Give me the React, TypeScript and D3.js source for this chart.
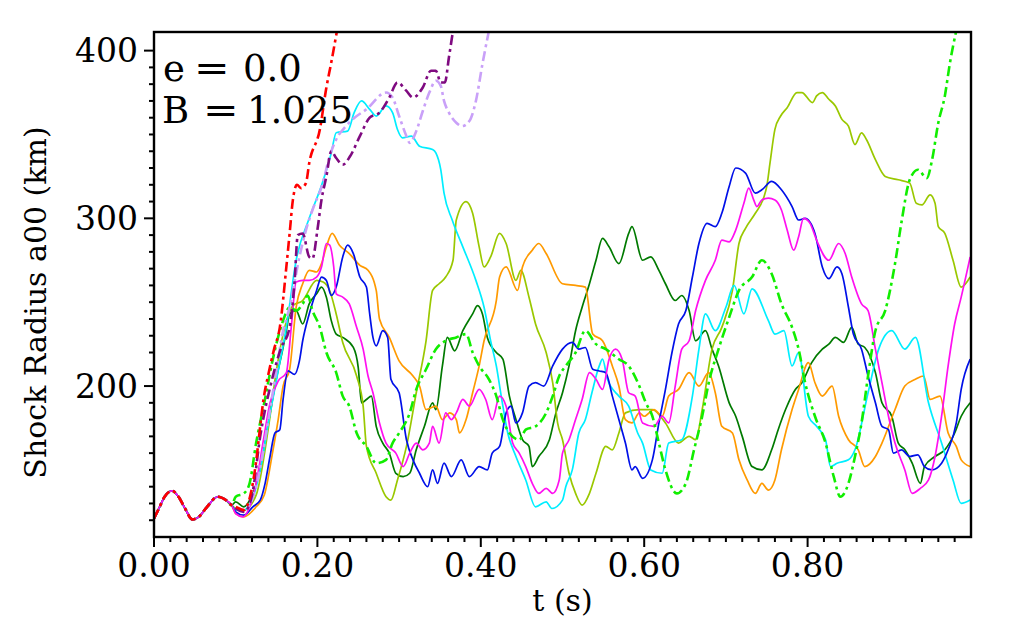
import React from 'react';
import * as d3 from 'd3';

type Pt = [number, number];

// shared start of every run (t in s, shock radius in km)
const startSegment: Pt[] = [[0, 121], [0.006, 127], [0.013, 134], [0.022, 137.5], [0.03, 134], [0.038, 127], [0.047, 120.5], [0.055, 122], [0.065, 128], [0.078, 134], [0.088, 132], [0.095, 129]];

const redRun: Pt[] = [[0.1, 128], [0.11, 126], [0.118, 135], [0.125, 155], [0.13, 176], [0.134, 192], [0.14, 207], [0.147, 222], [0.154, 235], [0.162, 271], [0.166, 291], [0.17, 311], [0.175, 320], [0.18, 318], [0.186, 321], [0.19, 333], [0.203, 353], [0.211, 378], [0.217, 393], [0.224, 412]];

const purpleRun: Pt[] = [[0.1, 127], [0.11, 125], [0.12, 135], [0.13, 170], [0.145, 205], [0.155, 222], [0.166, 235], [0.172, 262], [0.176, 290], [0.182, 291], [0.19, 277], [0.194, 276], [0.2, 293], [0.205, 311], [0.211, 325], [0.217, 340], [0.223, 336], [0.231, 332], [0.24, 337], [0.252, 349], [0.264, 360], [0.276, 363], [0.288, 372], [0.298, 381], [0.309, 376], [0.317, 372], [0.329, 378], [0.339, 388], [0.345, 388], [0.351, 381], [0.356, 381], [0.361, 396], [0.366, 412]];

const lavenderRun: Pt[] = [[0.1, 127], [0.11, 126], [0.125, 140], [0.14, 180], [0.15, 210], [0.158, 233], [0.166, 247], [0.178, 277], [0.186, 293], [0.194, 305], [0.206, 320], [0.215, 337], [0.223, 347], [0.235, 355], [0.243, 359], [0.26, 365], [0.284, 375], [0.292, 372], [0.3, 361], [0.309, 349], [0.313, 345], [0.321, 352], [0.329, 364], [0.337, 375], [0.345, 382], [0.351, 379], [0.355, 370], [0.361, 363], [0.37, 357], [0.377, 355], [0.386, 358], [0.394, 370], [0.402, 392], [0.41, 412]];

const cyanRun: Pt[] = [[0.1, 126], [0.11, 126], [0.12, 132], [0.13, 150], [0.14, 178], [0.15, 204], [0.162, 235], [0.174, 275], [0.19, 300], [0.206, 321], [0.217, 339], [0.223, 351], [0.237, 352], [0.245, 363], [0.254, 370], [0.264, 365], [0.272, 361], [0.284, 367], [0.292, 363], [0.298, 353], [0.304, 348], [0.315, 349], [0.325, 343], [0.341, 341], [0.345, 339], [0.351, 329], [0.355, 315], [0.365, 299], [0.378, 283], [0.394, 263], [0.404, 247], [0.412, 227], [0.419, 212], [0.425, 194], [0.433, 172], [0.443, 158], [0.455, 144], [0.467, 128], [0.48, 131], [0.487, 127], [0.5, 132], [0.504, 140], [0.512, 150], [0.52, 172], [0.528, 180], [0.536, 196], [0.545, 212], [0.549, 216], [0.555, 204], [0.569, 194], [0.581, 188], [0.592, 172], [0.598, 166], [0.608, 150], [0.622, 148], [0.63, 166], [0.646, 168], [0.659, 194], [0.667, 222], [0.675, 243], [0.687, 233], [0.7, 247], [0.71, 260], [0.722, 243], [0.732, 258], [0.752, 239], [0.76, 231], [0.771, 233], [0.781, 212], [0.789, 220], [0.801, 182], [0.811, 176], [0.822, 168], [0.828, 152], [0.836, 154], [0.85, 156], [0.858, 162], [0.874, 196], [0.887, 222], [0.903, 233], [0.919, 222], [0.932, 229], [0.948, 190], [0.964, 166], [0.978, 144], [0.988, 130], [0.999, 132]];

const yellowGreenRun: Pt[] = [[0.1, 127], [0.11, 126], [0.125, 135], [0.14, 175], [0.15, 210], [0.16, 235], [0.17, 248], [0.182, 251], [0.199, 263], [0.207, 262], [0.215, 257], [0.223, 243], [0.231, 226], [0.248, 206], [0.256, 188], [0.26, 164], [0.272, 148], [0.284, 134], [0.29, 132], [0.298, 144], [0.309, 164], [0.321, 196], [0.333, 227], [0.341, 257], [0.349, 261], [0.357, 265], [0.366, 275], [0.37, 299], [0.382, 310], [0.39, 303], [0.398, 283], [0.404, 271], [0.412, 277], [0.423, 291], [0.431, 285], [0.443, 263], [0.449, 269], [0.459, 253], [0.467, 237], [0.48, 220], [0.488, 202], [0.494, 178], [0.5, 168], [0.508, 148], [0.516, 136], [0.524, 129], [0.533, 136], [0.541, 148], [0.553, 164], [0.561, 162], [0.569, 172], [0.577, 184], [0.594, 186], [0.61, 186], [0.626, 178], [0.642, 166], [0.655, 170], [0.663, 168], [0.671, 186], [0.683, 222], [0.695, 235], [0.708, 257], [0.716, 285], [0.724, 294], [0.736, 303], [0.746, 312], [0.75, 319], [0.754, 333], [0.76, 353], [0.767, 361], [0.775, 366], [0.787, 375], [0.793, 375], [0.806, 369], [0.811, 373], [0.818, 375], [0.826, 371], [0.834, 367], [0.842, 359], [0.85, 355], [0.858, 344], [0.866, 351], [0.872, 347], [0.883, 335], [0.895, 325], [0.911, 323], [0.925, 321], [0.933, 309], [0.94, 308], [0.95, 314], [0.956, 309], [0.96, 295], [0.968, 291], [0.978, 275], [0.988, 259], [0.999, 265]];

const orangeRun: Pt[] = [[0.1, 124], [0.11, 122], [0.125, 128], [0.135, 135], [0.145, 160], [0.152, 180], [0.158, 200], [0.166, 210], [0.174, 247], [0.182, 261], [0.19, 269], [0.199, 268], [0.205, 273], [0.211, 283], [0.218, 291], [0.227, 284], [0.239, 279], [0.252, 272], [0.262, 269], [0.272, 257], [0.276, 240], [0.288, 229], [0.3, 215], [0.317, 206], [0.325, 200], [0.333, 186], [0.345, 188], [0.353, 180], [0.362, 184], [0.37, 180], [0.374, 172], [0.382, 180], [0.39, 196], [0.398, 212], [0.404, 227], [0.419, 251], [0.423, 265], [0.431, 271], [0.445, 257], [0.451, 271], [0.463, 281], [0.471, 285], [0.48, 279], [0.5, 261], [0.516, 260], [0.528, 259], [0.537, 231], [0.549, 227], [0.561, 212], [0.569, 200], [0.577, 180], [0.585, 178], [0.594, 184], [0.6, 182], [0.612, 186], [0.622, 182], [0.63, 194], [0.642, 198], [0.655, 208], [0.667, 200], [0.679, 208], [0.687, 196], [0.695, 176], [0.708, 172], [0.716, 156], [0.726, 144], [0.736, 136], [0.744, 142], [0.752, 138], [0.76, 144], [0.768, 162], [0.781, 186], [0.789, 198], [0.801, 214], [0.809, 202], [0.818, 194], [0.83, 200], [0.838, 182], [0.85, 168], [0.862, 162], [0.87, 152], [0.883, 158], [0.891, 166], [0.907, 186], [0.919, 200], [0.932, 204], [0.942, 206], [0.95, 192], [0.962, 194], [0.972, 172], [0.982, 164], [0.988, 156], [0.999, 152]];

const blueRun: Pt[] = [[0.1, 125], [0.11, 123], [0.121, 128], [0.13, 132], [0.136, 142], [0.142, 158], [0.148, 172], [0.154, 174], [0.158, 192], [0.164, 209], [0.172, 207], [0.178, 215], [0.182, 227], [0.19, 243], [0.199, 257], [0.205, 265], [0.211, 263], [0.217, 254], [0.223, 259], [0.231, 277], [0.237, 284], [0.244, 279], [0.252, 265], [0.26, 259], [0.264, 243], [0.268, 229], [0.272, 224], [0.28, 233], [0.286, 229], [0.29, 204], [0.3, 196], [0.309, 168], [0.317, 156], [0.325, 148], [0.335, 140], [0.341, 150], [0.347, 142], [0.355, 154], [0.364, 146], [0.376, 156], [0.386, 146], [0.398, 152], [0.408, 150], [0.414, 160], [0.423, 164], [0.431, 184], [0.437, 188], [0.443, 178], [0.451, 184], [0.459, 200], [0.467, 202], [0.477, 200], [0.488, 212], [0.5, 222], [0.512, 226], [0.52, 222], [0.528, 223], [0.537, 210], [0.545, 209], [0.553, 208], [0.561, 194], [0.569, 180], [0.577, 166], [0.585, 150], [0.589, 152], [0.598, 145], [0.61, 156], [0.618, 178], [0.626, 198], [0.634, 220], [0.642, 237], [0.651, 245], [0.659, 265], [0.667, 285], [0.677, 297], [0.687, 295], [0.695, 303], [0.704, 319], [0.712, 330], [0.724, 327], [0.736, 315], [0.744, 317], [0.756, 322], [0.768, 317], [0.781, 307], [0.789, 299], [0.797, 300], [0.809, 291], [0.818, 271], [0.826, 264], [0.836, 271], [0.842, 267], [0.85, 247], [0.856, 231], [0.866, 222], [0.874, 206], [0.883, 190], [0.891, 176], [0.899, 174], [0.905, 160], [0.915, 162], [0.925, 158], [0.935, 159], [0.943, 152], [0.952, 150], [0.964, 154], [0.972, 162], [0.982, 178], [0.988, 198], [0.999, 216]];

const magentaRun: Pt[] = [[0.1, 124], [0.109, 122], [0.117, 128], [0.125, 142], [0.134, 168], [0.142, 190], [0.152, 203], [0.162, 208], [0.168, 235], [0.174, 262], [0.182, 263], [0.19, 263], [0.199, 265], [0.205, 271], [0.211, 285], [0.215, 284], [0.22, 271], [0.223, 255], [0.231, 253], [0.239, 249], [0.248, 235], [0.256, 222], [0.262, 206], [0.268, 196], [0.276, 178], [0.284, 166], [0.296, 160], [0.305, 152], [0.313, 160], [0.321, 166], [0.329, 162], [0.337, 166], [0.341, 176], [0.349, 166], [0.357, 184], [0.364, 180], [0.37, 184], [0.378, 192], [0.386, 188], [0.398, 198], [0.406, 192], [0.414, 180], [0.423, 194], [0.431, 188], [0.439, 166], [0.447, 160], [0.455, 152], [0.463, 142], [0.471, 136], [0.48, 139], [0.488, 136], [0.496, 144], [0.5, 160], [0.508, 168], [0.516, 180], [0.524, 192], [0.533, 208], [0.541, 204], [0.549, 198], [0.557, 216], [0.565, 222], [0.573, 216], [0.581, 196], [0.589, 194], [0.598, 178], [0.612, 176], [0.622, 182], [0.63, 178], [0.638, 200], [0.646, 222], [0.655, 227], [0.663, 245], [0.675, 263], [0.687, 275], [0.695, 287], [0.704, 286], [0.712, 293], [0.722, 309], [0.728, 318], [0.734, 311], [0.738, 307], [0.744, 311], [0.752, 312], [0.76, 311], [0.768, 305], [0.775, 293], [0.783, 281], [0.789, 289], [0.795, 300], [0.803, 297], [0.811, 287], [0.826, 275], [0.838, 285], [0.846, 279], [0.854, 265], [0.866, 249], [0.874, 245], [0.883, 222], [0.891, 202], [0.899, 182], [0.907, 166], [0.919, 150], [0.928, 136], [0.938, 139], [0.948, 144], [0.956, 158], [0.964, 182], [0.972, 212], [0.98, 237], [0.988, 253], [0.999, 277]];

const darkGreenRun: Pt[] = [[0.1, 131], [0.11, 128], [0.12, 135], [0.13, 150], [0.14, 178], [0.15, 205], [0.158, 223], [0.162, 233], [0.166, 243], [0.174, 245], [0.182, 237], [0.19, 249], [0.199, 255], [0.205, 259], [0.211, 253], [0.217, 239], [0.223, 231], [0.231, 229], [0.244, 223], [0.25, 211], [0.254, 190], [0.26, 192], [0.266, 194], [0.272, 176], [0.28, 166], [0.288, 160], [0.296, 148], [0.305, 146], [0.313, 148], [0.321, 162], [0.331, 176], [0.341, 190], [0.345, 186], [0.353, 212], [0.359, 229], [0.368, 221], [0.378, 233], [0.39, 243], [0.396, 248], [0.402, 243], [0.408, 229], [0.419, 220], [0.427, 216], [0.435, 194], [0.443, 180], [0.451, 168], [0.459, 164], [0.463, 152], [0.471, 158], [0.484, 168], [0.492, 184], [0.5, 196], [0.508, 212], [0.516, 233], [0.524, 247], [0.533, 261], [0.541, 275], [0.549, 288], [0.557, 283], [0.569, 273], [0.581, 291], [0.585, 295], [0.598, 275], [0.608, 277], [0.618, 269], [0.626, 261], [0.638, 251], [0.646, 254], [0.655, 245], [0.663, 227], [0.675, 233], [0.683, 222], [0.691, 212], [0.704, 190], [0.712, 182], [0.72, 170], [0.732, 152], [0.744, 150], [0.756, 162], [0.764, 174], [0.773, 186], [0.785, 198], [0.793, 202], [0.805, 214], [0.818, 222], [0.826, 225], [0.834, 229], [0.844, 226], [0.854, 235], [0.862, 225], [0.87, 223], [0.883, 208], [0.891, 190], [0.903, 182], [0.911, 166], [0.919, 162], [0.928, 154], [0.938, 142], [0.943, 152], [0.956, 158], [0.968, 162], [0.98, 172], [0.988, 182], [0.999, 190]];

const limeRun: Pt[] = [[0.1, 134], [0.11, 136], [0.117, 142], [0.125, 166], [0.135, 190], [0.145, 215], [0.158, 239], [0.166, 247], [0.174, 245], [0.182, 249], [0.188, 254], [0.194, 245], [0.203, 235], [0.211, 220], [0.223, 208], [0.231, 194], [0.239, 188], [0.248, 172], [0.26, 164], [0.272, 154], [0.284, 156], [0.292, 166], [0.3, 172], [0.313, 184], [0.321, 198], [0.333, 210], [0.345, 222], [0.357, 227], [0.37, 229], [0.382, 231], [0.39, 220], [0.398, 212], [0.41, 204], [0.419, 194], [0.427, 180], [0.435, 172], [0.447, 168], [0.455, 174], [0.467, 176], [0.48, 184], [0.488, 194], [0.496, 206], [0.504, 212], [0.516, 220], [0.528, 233], [0.541, 225], [0.553, 222], [0.569, 216], [0.581, 212], [0.594, 200], [0.602, 190], [0.61, 182], [0.618, 166], [0.626, 150], [0.64, 136], [0.651, 142], [0.661, 162], [0.671, 182], [0.679, 202], [0.691, 222], [0.704, 241], [0.716, 257], [0.732, 265], [0.744, 275], [0.756, 267], [0.768, 249], [0.781, 235], [0.789, 222], [0.797, 202], [0.809, 182], [0.822, 166], [0.832, 146], [0.84, 134], [0.85, 142], [0.858, 158], [0.866, 178], [0.874, 206], [0.883, 233], [0.895, 245], [0.907, 273], [0.915, 298], [0.925, 323], [0.935, 329], [0.946, 324], [0.952, 334], [0.96, 357], [0.968, 373], [0.974, 392], [0.982, 412]];

const runs = [
  { name: 'darkgreen', data: darkGreenRun, color: '#007a00', dash: null },
  { name: 'yellowgreen', data: yellowGreenRun, color: '#9ac800', dash: null },
  { name: 'orange', data: orangeRun, color: '#ff9a00', dash: null },
  { name: 'cyan', data: cyanRun, color: '#00eeff', dash: null },
  { name: 'blue', data: blueRun, color: '#0010e8', dash: null },
  { name: 'magenta', data: magentaRun, color: '#ff10f0', dash: null },
  { name: 'lime', data: limeRun, color: '#11ee00', dash: '10,4,3,4' },
  { name: 'lavender', data: lavenderRun, color: '#c9a0f8', dash: '10,4,3,4' },
  { name: 'purple', data: purpleRun, color: '#7f0a80', dash: '10,4,3,4' },
  { name: 'red', data: redRun, color: '#ff0000', dash: '10,4,3,4' },
];

const xMajorTicks = [0, 0.2, 0.4, 0.6, 0.8];
const xTickLabels = ['0.00', '0.20', '0.40', '0.60', '0.80'];
const yMajorTicks = [200, 300, 400];

const W = 1024, H = 633;
const left = 154, right = 971, top = 32, bottom = 537;
const FONT = '"DejaVu Serif", serif';

export default function App() {
  const x = d3.scaleLinear().domain([0, 1.0]).range([left, right]);
  const y = d3.scaleLinear().domain([110, 411.1]).range([bottom, top]);
  const line = d3.line<Pt>().x(d => x(d[0])).y(d => y(d[1])).curve(d3.curveMonotoneX);

  const xMinor = d3.range(0.02, 0.99, 0.02).filter(v => !xMajorTicks.some(m => Math.abs(m - v) < 1e-6));
  const yMinor = d3.range(120, 400, 10).filter(v => !yMajorTicks.includes(v));

  return (
    <svg width={W} height={H} style={{ position: 'absolute', left: 0, top: 0, background: '#fff' }} fontFamily={FONT}>
      <defs>
        <clipPath id="plotClip">
          <rect x={left} y={top} width={right - left} height={bottom - top} />
        </clipPath>
      </defs>
      <g clipPath="url(#plotClip)" fill="none">
        {runs.map(r => (
          <path key={r.name} d={line(startSegment.concat(r.data)) ?? ''} stroke={r.color}
            strokeWidth={r.dash ? 2.6 : 1.7} strokeDasharray={r.dash ?? undefined} strokeLinejoin="round" />
        ))}
      </g>
      <rect x={left} y={top} width={right - left} height={bottom - top} fill="none" stroke="#000" strokeWidth={2.4} />
      {xMajorTicks.map((v, i) => (
        <g key={'xt' + v}>
          <line x1={x(v)} x2={x(v)} y1={bottom} y2={bottom + 10} stroke="#000" strokeWidth={2} />
          <text x={x(v)} y={577} textAnchor="middle" fontSize={33}>{xTickLabels[i]}</text>
        </g>
      ))}
      {xMinor.map(v => (
        <line key={'xm' + v} x1={x(v)} x2={x(v)} y1={bottom} y2={bottom + 5} stroke="#000" strokeWidth={2} />
      ))}
      {yMajorTicks.map(v => (
        <g key={'yt' + v}>
          <line x1={left - 10} x2={left} y1={y(v)} y2={y(v)} stroke="#000" strokeWidth={2} />
          <text x={138} y={y(v)} dy="0.36em" textAnchor="end" fontSize={33}>{v}</text>
        </g>
      ))}
      {yMinor.map(v => (
        <line key={'ym' + v} x1={left - 5} x2={left} y1={y(v)} y2={y(v)} stroke="#000" strokeWidth={2} />
      ))}
      <text x={(left + right) / 2} y={611} textAnchor="middle" fontSize={30}>t (s)</text>
      <text transform={`translate(46,${(top + bottom) / 2 + 18}) rotate(-90)`} textAnchor="middle" fontSize={30}>Shock Radius a00 (km)</text>
      <text x={163} y={81} fontSize={37}>e</text>
      <text transform="translate(194,81) scale(1.15,1)" fontSize={37}>=</text>
      <text x={243} y={81} fontSize={37}>0.0</text>
      <text x={162} y={123} fontSize={37}>B</text>
      <text transform="translate(203,123) scale(1.15,1)" fontSize={37}>=</text>
      <text x={247} y={123} fontSize={37}>1.025</text>
    </svg>
  );
}
